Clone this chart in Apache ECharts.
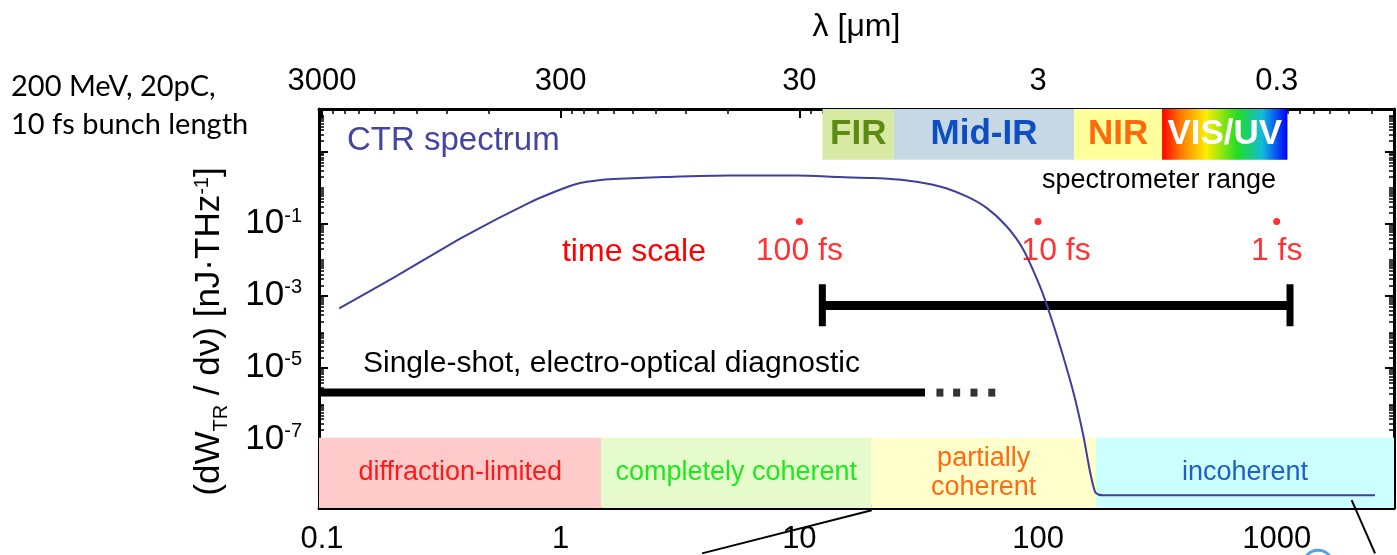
<!DOCTYPE html>
<html><head><meta charset="utf-8">
<script src="https://cdn.jsdelivr.net/npm/echarts@6/dist/echarts.min.js"></script>
<style>html,body{margin:0;padding:0;background:#fff}#c{width:1397px;height:555px}</style>
</head><body><div id="c"></div>
<script>
// ---------- data (frequency in THz, spectral energy in nJ/THz) ----------
const freqRange = [0.0971, 3101];
const dwRange = [1.245e-9, 151.7];
const freqTicks = [0.1, 1, 10, 100, 1000];
const freqTickLabels = ['0.1', '1', '10', '100', '1000'];
const lambdaTickLabels = ['3000', '300', '30', '3', '0.3'];
const yLabelExps = [-7, -5, -3, -1];
const yMajorExps = [-7, -5, -3, -1, 1];

const ctrFreq = [0.118, 0.2056, 0.391, 0.744, 1.03, 1.205, 1.416, 1.662, 2.69, 5.12, 9.75, 14.8, 20.4, 28.2, 38.8, 50.2, 60.9, 73.8, 86.7, 101.8, 110.4, 123.6, 140.6, 154.8, 165.2, 173.3, 180, 187.9, 2582];
const ctrValue = [4.4e-4, 3.5e-3, 0.0426, 0.387, 0.95, 1.33, 1.57, 1.72, 1.95, 2.16, 2.16, 1.95, 1.83, 1.57, 1.07, 0.567, 0.271, 0.0838, 0.019, 1.83e-3, 4.14e-4, 4.0e-5, 2.05e-6, 1.29e-7, 1.25e-8, 3.5e-9, 2.9e-9, 2.8e-9, 2.8e-9];

const bandEdges = [12.5, 24.9, 141.5, 331, 1109];
const bandNames = ['FIR', 'Mid-IR', 'NIR', 'VIS/UV'];
const bandLow = 5.89;

const regionEdges = [1.48, 20, 175];
const regionNames = ['diffraction-limited', 'completely coherent', 'partially\ncoherent', 'incoherent'];
const regionTop = 1.12e-7;

const specRange = [12.48, 1137];
const specLevel = 5.27e-4;
const specCap = [2.04e-3, 1.40e-4];

const eoRange = [0.0971, 33.6];
const eoLevel = 2.0e-6;
const eoDots = [38.8, 45.6, 53.9, 64.0];

const timeFreq = [10, 100, 1000];
const timeLevel = 0.113;
const timeLabels = ['100 fs', '10 fs', '1 fs'];

const calloutA = [[20.1, 1.08e-9], [3.91, 6.84e-11]];
const calloutB = [[2061, 2.05e-9], [2582, 6.84e-11]];
const calloutRing = [[1490, 3.18e-11]];

// ---------- helpers ----------
const L = Math.log10;
const xMin = L(freqRange[0]), xMax = L(freqRange[1]);
const yMin = L(dwRange[0]), yMax = L(dwRange[1]);
const FONT = '"Liberation Sans", Arial, Helvetica, sans-serif';
const P = (f, v) => [L(f), L(v)];
const freqMajor = freqTicks.map(L);
function idxOf(v) { for (let i = 0; i < freqMajor.length; i++) if (Math.abs(freqMajor[i] - v) < 1e-6) return i; return -1; }

const minorBottom = [], minorTop = [], minorY = [];
for (let n = -3; n <= 4; n++) for (let k = 2; k <= 9; k++) {
  const v = n + L(k); if (v > xMin && v < xMax) minorBottom.push(v);
  const w = 2 - n - L(k); if (w > xMin && w < xMax) minorTop.push(w);
}
for (let n = -10; n <= 3; n++) for (let k = 1; k <= 9; k++) {
  if (k === 1 && Math.abs(n % 2) === 1) continue;
  const v = n + L(k); if (v > yMin && v < yMax) minorY.push(v);
}

const bandBg = ['#d7e9a3', '#c6d8e4', '#ffff9c', null];
const bandFg = ['#5c8a12', '#0d4fc2', '#ff6a0a', '#ffffff'];
const rainbow = new echarts.graphic.LinearGradient(0, 0, 1, 0, [
  {offset: 0, color: '#ff0000'}, {offset: 0.15, color: '#ff7a00'}, {offset: 0.35, color: '#ffee00'},
  {offset: 0.6, color: '#22dd22'}, {offset: 0.8, color: '#11bbdd'}, {offset: 1, color: '#0000ff'}]);
const regionBg = ['#ffcaca', '#e6fbcc', '#ffffcc', '#ccffff'];
const regionFg = ['#ff1a1a', '#1ee81e', '#ff6a10', '#1f5fc8'];

const bandData = bandNames.map((nm, i) => [
  {name: nm, xAxis: L(bandEdges[i]), yAxis: L(bandLow),
   itemStyle: {color: i === 3 ? rainbow : bandBg[i], opacity: 1},
   label: {color: bandFg[i]}},
  {xAxis: L(bandEdges[i + 1]), yAxis: yMax}
]);
const regEdgesFull = [xMin].concat(regionEdges.map(L), [xMax]);
const regionData = regionNames.map((nm, i) => [
  {name: nm, xAxis: regEdgesFull[i], yAxis: yMin, itemStyle: {color: regionBg[i], opacity: 1}, label: {color: regionFg[i]}},
  {xAxis: regEdgesFull[i + 1], yAxis: L(regionTop)}
]);

function majorX(pos, extra) {
  return Object.assign({
    gridIndex: 0, type: 'value', position: pos, min: xMin, max: xMax,
    axisLine: {onZero: false, lineStyle: {color: '#000', width: 3}},
    axisTick: {inside: true, length: 9, lineStyle: {color: '#000', width: 2}, customValues: freqMajor},
    splitLine: {show: false}
  }, extra);
}
function minorAxis(dimIsX, pos, vals) {
  return {
    gridIndex: 1, type: 'value', position: pos,
    min: dimIsX ? xMin : yMin, max: dimIsX ? xMax : yMax,
    axisLine: {show: false, onZero: false},
    axisTick: {inside: true, length: 5, lineStyle: {color: '#000', width: 1.5}, customValues: vals},
    axisLabel: {show: false}, splitLine: {show: false}
  };
}
function majorY(pos, extra) {
  return Object.assign({
    gridIndex: 0, type: 'value', position: pos, min: yMin, max: yMax,
    axisLine: {onZero: false, lineStyle: {color: '#000', width: 3}},
    axisTick: {inside: true, length: 9, lineStyle: {color: '#000', width: 2}, customValues: yMajorExps},
    splitLine: {show: false}
  }, extra);
}

const option = {
  animation: false,
  grid: [
    {left: 319, right: 3, top: 109, bottom: 45.5},
    {left: 319, right: 3, top: 109, bottom: 45.5}
  ],
  xAxis: [
    majorX('bottom', {
      axisLabel: {customValues: freqMajor, margin: 16, fontSize: 31, fontFamily: FONT, color: '#000',
        formatter: v => { const i = idxOf(v); return i < 0 ? '' : freqTickLabels[i]; }}
    }),
    majorX('top', {
      name: 'λ [μm]', nameLocation: 'middle', nameGap: 66,
      nameTextStyle: {fontSize: 32, fontFamily: FONT, color: '#000'},
      axisLabel: {customValues: freqMajor, margin: 12, fontSize: 31, fontFamily: FONT, color: '#000',
        formatter: v => { const i = idxOf(v); return i < 0 ? '' : lambdaTickLabels[i]; }}
    }),
    minorAxis(true, 'bottom', minorBottom),
    minorAxis(true, 'top', minorTop)
  ],
  yAxis: [
    majorY('left', {
      name: '{t|(dW}{sub|TR}{t| / dν) [nJ·THz}{sup|-1}{t|]}',
      nameLocation: 'middle', nameRotate: 90, nameGap: 92,
      nameTextStyle: {fontSize: 35, fontFamily: FONT, color: '#000', padding: [0, 46, 0, 0],
        rich: {
          t: {fontSize: 35, fontFamily: FONT, color: '#000'},
          sub: {fontSize: 20, fontFamily: FONT, color: '#000', verticalAlign: 'bottom', padding: [0, 0, -4, 0]},
          sup: {fontSize: 20, fontFamily: FONT, color: '#000', verticalAlign: 'top'}
        }},
      axisLabel: {customValues: yLabelExps, margin: 17, fontSize: 35, fontFamily: FONT, color: '#000',
        formatter: v => '{b|10}{s|' + Math.round(v) + '}',
        rich: {
          b: {fontSize: 35, fontFamily: FONT, color: '#000'},
          s: {fontSize: 20, fontFamily: FONT, color: '#000', verticalAlign: 'top'}
        }}
    }),
    majorY('right', {axisLabel: {show: false}}),
    minorAxis(false, 'left', minorY),
    minorAxis(false, 'right', minorY)
  ],
  graphic: [
    {type: 'text', x: 11, y: 87, style: {text: '200 MeV, 20pC,', fontSize: 29, fontFamily: 'Lato', fill: '#000', align: 'left', verticalAlign: 'middle'}},
    {type: 'text', x: 11, y: 125, style: {text: '10 fs bunch length', fontSize: 29, fontFamily: 'Lato', fill: '#000', align: 'left', verticalAlign: 'middle'}},
    {type: 'text', x: 347, y: 141, z: 20, style: {text: 'CTR spectrum', fontSize: 33, fontFamily: FONT, fill: '#45459f', align: 'left', verticalAlign: 'middle'}},
    {type: 'text', x: 634, y: 252, z: 20, style: {text: 'time scale', fontSize: 32, fontFamily: FONT, fill: '#ff0000', align: 'center', verticalAlign: 'middle'}},
    {type: 'text', x: 1159, y: 181, z: 20, style: {text: 'spectrometer range', fontSize: 27, fontFamily: FONT, fill: '#000', align: 'center', verticalAlign: 'middle'}},
    {type: 'text', x: 363, y: 364, z: 20, style: {text: 'Single-shot, electro-optical diagnostic', fontSize: 30, fontFamily: FONT, fill: '#000', align: 'left', verticalAlign: 'middle'}}
  ],
  series: [
    {name: 'coherence', type: 'line', xAxisIndex: 0, yAxisIndex: 0, data: [], z: 1,
      markArea: {silent: true, data: regionData,
        label: {show: true, position: 'inside', formatter: '{b}', fontSize: 27, lineHeight: 29, fontFamily: FONT}}},
    {name: 'bands', type: 'line', xAxisIndex: 0, yAxisIndex: 0, data: [], z: 1,
      markArea: {silent: true, data: bandData,
        label: {show: true, position: 'inside', formatter: '{b}', fontSize: 35, fontWeight: 'bold', fontFamily: FONT}}},
    {name: 'CTR spectrum', type: 'line', xAxisIndex: 0, yAxisIndex: 0, z: 5, smooth: 0.25, showSymbol: false,
      lineStyle: {color: '#3e3e9c', width: 2}, itemStyle: {color: '#3e3e9c'},
      data: ctrFreq.map((f, i) => P(f, ctrValue[i]))},
    {name: 'spectrometer', type: 'line', xAxisIndex: 0, yAxisIndex: 0, z: 4, showSymbol: false,
      lineStyle: {color: '#000', width: 9}, data: specRange.map(f => P(f, specLevel))},
    {name: 'capL', type: 'line', xAxisIndex: 0, yAxisIndex: 0, z: 4, showSymbol: false,
      lineStyle: {color: '#000', width: 7}, data: specCap.map(v => P(specRange[0], v))},
    {name: 'capR', type: 'line', xAxisIndex: 0, yAxisIndex: 0, z: 4, showSymbol: false,
      lineStyle: {color: '#000', width: 7}, data: specCap.map(v => P(specRange[1], v))},
    {name: 'eo', type: 'line', xAxisIndex: 0, yAxisIndex: 0, z: 4, showSymbol: false,
      lineStyle: {color: '#000', width: 8}, data: eoRange.map(f => P(f, eoLevel))},
    {name: 'eoDots', type: 'scatter', xAxisIndex: 0, yAxisIndex: 0, z: 4, symbol: 'rect', symbolSize: [7, 8],
      itemStyle: {color: '#000'}, data: eoDots.map(f => P(f, eoLevel))},
    {name: 'time', type: 'scatter', xAxisIndex: 0, yAxisIndex: 0, z: 6, symbol: 'circle', symbolSize: 7,
      itemStyle: {color: '#ff0000'},
      label: {show: true, position: 'bottom', distance: 10, fontSize: 32, fontFamily: FONT, color: '#ff0000',
        formatter: p => timeLabels[p.dataIndex]},
      data: timeFreq.map((f, i) => ({value: P(f, timeLevel), label: i === 1 ? {offset: [18, 0]} : {}}))},
    {name: 'calloutA', type: 'line', xAxisIndex: 0, yAxisIndex: 0, z: 6, clip: false, showSymbol: false,
      lineStyle: {color: '#000', width: 2}, data: calloutA.map(p => P(p[0], p[1]))},
    {name: 'calloutB', type: 'line', xAxisIndex: 0, yAxisIndex: 0, z: 6, clip: false, showSymbol: false,
      lineStyle: {color: '#000', width: 2}, data: calloutB.map(p => P(p[0], p[1]))},
    {name: 'calloutRing', type: 'scatter', xAxisIndex: 0, yAxisIndex: 0, z: 6, clip: false, symbol: 'circle', symbolSize: 30,
      itemStyle: {color: 'rgba(0,0,0,0)', borderColor: '#2a8ae0', borderWidth: 3},
      data: calloutRing.map(p => P(p[0], p[1]))}
  ]
};
const chart = echarts.init(document.getElementById('c'));
chart.setOption(option);
</script></body></html>
